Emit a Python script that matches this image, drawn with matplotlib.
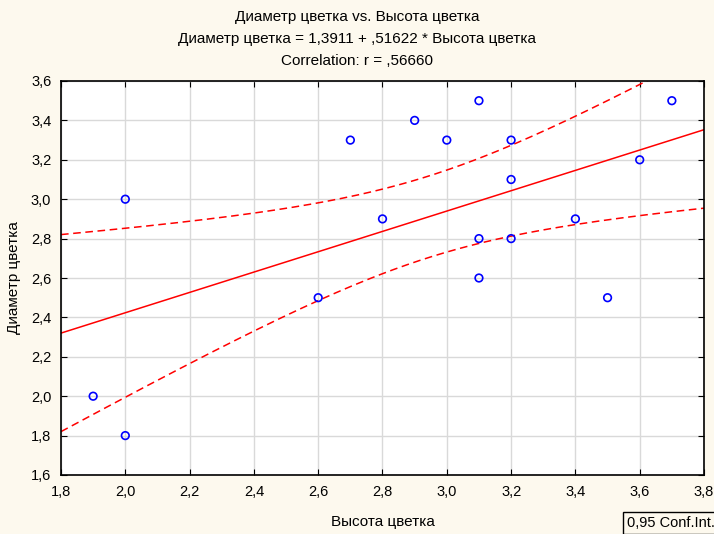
import numpy as np
import matplotlib.pyplot as plt

plt.rcParams['font.family'] = ['Liberation Sans', 'DejaVu Sans']

# data
height = [1.9, 2.0, 2.0, 2.6, 2.7, 2.8, 2.9, 3.0, 3.1, 3.1, 3.1, 3.2, 3.2, 3.2, 3.4, 3.5, 3.6, 3.7]
diam = [2.0, 3.0, 1.8, 2.5, 3.3, 2.9, 3.4, 3.3, 3.5, 2.8, 2.6, 3.3, 3.1, 2.8, 2.9, 2.5, 3.2, 3.5]
xticks = [1.8, 2.0, 2.2, 2.4, 2.6, 2.8, 3.0, 3.2, 3.4, 3.6, 3.8]
yticks = [1.6, 1.8, 2.0, 2.2, 2.4, 2.6, 2.8, 3.0, 3.2, 3.4, 3.6]
t_crit = 2.1199  # t(0.975, df=16)

x = np.array(height)
y = np.array(diam)
n = len(x)
b1, b0 = np.polyfit(x, y, 1)
resid = y - (b0 + b1 * x)
s = np.sqrt(np.sum(resid ** 2) / (n - 2))
sxx = np.sum((x - x.mean()) ** 2)
xs = np.linspace(1.8, 3.8, 200)
yfit = b0 + b1 * xs
half = t_crit * s * np.sqrt(1 / n + (xs - x.mean()) ** 2 / sxx)

bg = '#fdf9ee'
fig = plt.figure(figsize=(7.14, 5.34), dpi=100, facecolor=bg)
ax = fig.add_axes([61 / 714, 1 - 475 / 534, 643 / 714, 394 / 534])
ax.set_facecolor('white')

ax.plot(xs, yfit, color='red', lw=1.1)
ax.plot(xs, yfit + half, color='red', lw=1.1, ls=(0, (5, 3)))
ax.plot(xs, yfit - half, color='red', lw=1.1, ls=(0, (5, 3)))
ax.scatter(x, y, s=30, facecolors='none', edgecolors='#0000ff', linewidths=1.2, zorder=3)

ax.set_xlim(1.8, 3.8)
ax.set_ylim(1.6, 3.6)
ax.set_xticks(xticks)
ax.set_yticks(yticks)
ax.set_xticklabels([f"{v:.1f}".replace('.', ',') for v in xticks])
ax.set_yticklabels([f"{v:.1f}".replace('.', ',') for v in yticks])
ax.tick_params(direction='in', top=True, right=True, length=4, labelsize=10.5, pad=7)
ax.grid(True, color='#d9d9d9', lw=1)
ax.set_axisbelow(True)
for sp in ax.spines.values():
    sp.set_linewidth(1.2)

ax.set_xlabel('Высота цветка', fontsize=11, labelpad=12)
ax.set_ylabel('Диаметр цветка', fontsize=11, labelpad=7)

fig.text(0.5, 1 - 17 / 534, 'Диаметр цветка vs. Высота цветка', ha='center', va='center', fontsize=11)
fig.text(0.5, 1 - 39 / 534, 'Диаметр цветка = 1,3911 + ,51622 * Высота цветка', ha='center', va='center', fontsize=11)
fig.text(0.5, 1 - 61 / 534, 'Correlation: r = ,56660', ha='center', va='center', fontsize=11)

fig.text(627 / 714, 1 - 523 / 534, '0,95 Conf.Int.', ha='left', va='center', fontsize=10.5,
         bbox=dict(boxstyle='square,pad=0.3', facecolor=bg, edgecolor='black', lw=1))

fig.savefig('out.png', dpi=100, facecolor=bg)
